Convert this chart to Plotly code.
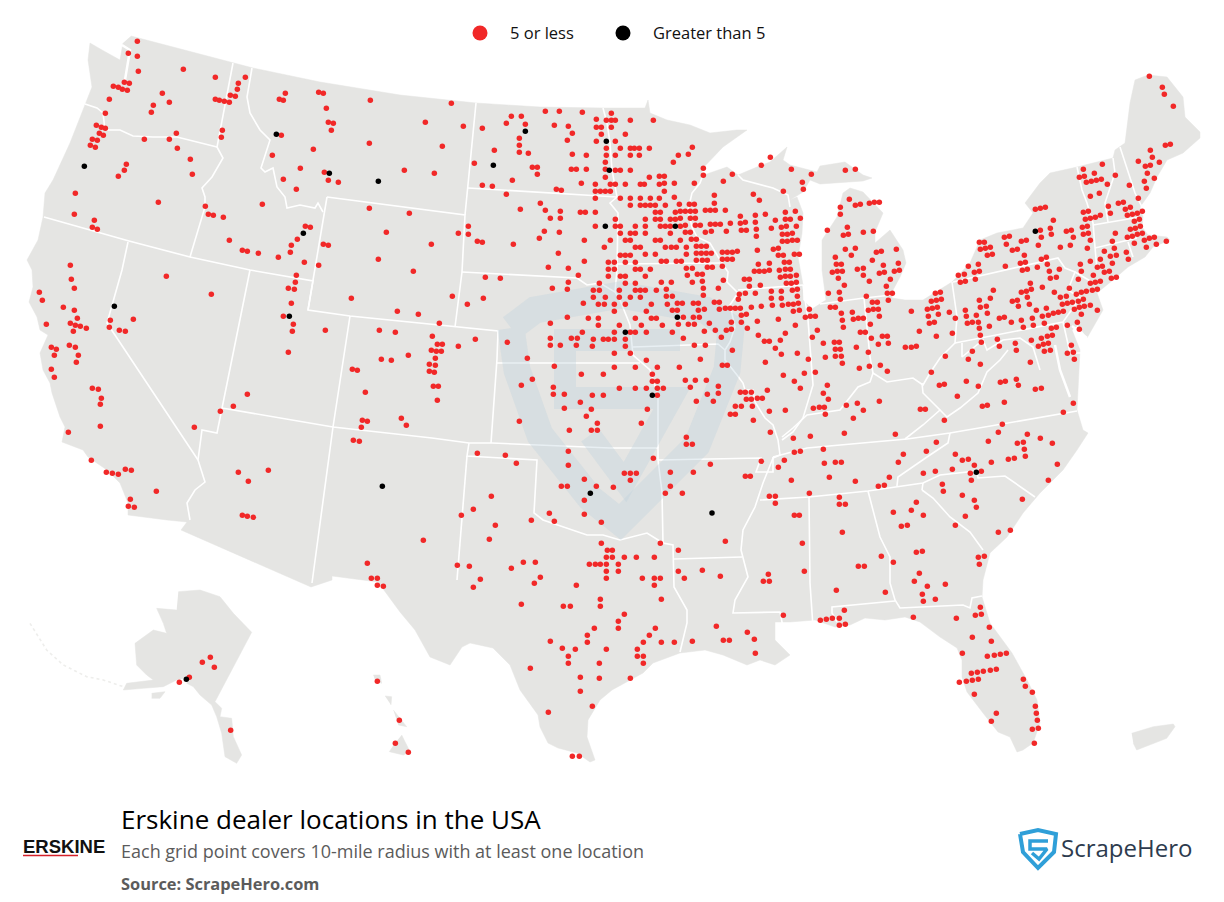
import plotly.graph_objects as go

# Dealer grid points; each list is in units of one enlarged reading window
REGIONS = {"a": (20, 30, 3), "b": (20, 270, 3), "c": (310, 90, 3), "d": (310, 330, 3), "e": (590, 100, 3),
           "f": (590, 295, 3), "g": (820, 60, 3), "h": (730, 350, 3), "i": (430, 530, 3), "j": (20, 580, 3), "l": (940, 580, 3)}

black_a = [(193,409),(769,313),(850,610)]
black_b = [(283,109),(808,139)]
black_c = [(646,124),(889,154),(550,226),(58,250),(205,274),(886,409),(898,241)]
black_d = [(217,469),(841,490)]
black_e = [(49,124),(61,211),(46,379),(256,379)]
black_f = [(106,112),(262,67),(187,301),(1,595)]
black_g = [(646,514)]
black_h = [(739,367)]
black_j = [(499,298)]
black_extra = [(712,513)]

red_a = [(352,34),(325,70),(352,79),(355,124),(490,118),(586,142),(676,142),(655,160),(652,178),(631,196),(646,199),(796,190),(778,208),(790,211),(896,187),(586,208),(598,211),(613,214),(628,217),(313,157),(328,160),(280,169),(295,172),(307,178),(322,181),(427,190),(268,208),(448,217),(400,226),(394,247),(256,250),(229,286),(244,292),(256,295),(238,310),(250,316),(217,328),(232,331),(211,346),(226,352),(373,328),(448,328),(469,310),(472,355),(511,388),(517,433),(607,301),(604,322),(784,316),(757,376),(880,358),(841,415),(790,448),(829,478),(319,403),(313,421),(295,439),(166,490),(163,553),(415,517),(556,529),(565,553),(580,556),(610,562),(727,523),(223,571),(217,592),(232,598),(856,589),(871,592),(832,628),(814,646),(811,667),(628,631),(667,661),(682,664),(715,670),(775,682),(853,697),(896,706),(829,736),(151,706),(154,748),(439,739)]
red_b = [(154,31),(163,55),(58,67),(67,91),(130,112),(163,121),(172,145),(151,160),(166,166),(181,169),(199,175),(160,184),(79,163),(439,19),(574,73),(271,151),(268,172),(298,181),(316,184),(340,148),(94,232),(109,238),(103,256),(148,226),(166,232),(175,256),(169,277),(94,298),(103,322),(217,355),(235,358),(244,385),(241,403),(241,469),(145,487),(214,571),(259,607),(277,610),(295,613),(316,598),(334,601),(409,664),(331,688),(325,709),(343,712),(523,472),(601,424),(640,409),(682,373),(829,16),(826,37),(805,55),(823,58),(814,100),(790,139),(820,163),(817,184),(805,247),(655,607),(745,601),(685,634),(667,736),(682,739),(700,742)]
red_c = [(28,7),(40,10),(181,31),(424,40),(49,55),(55,97),(70,100),(64,121),(346,97),(460,109),(178,160),(397,169),(10,178),(43,247),(283,241),(373,250),(55,271),(85,277),(517,115),(589,100),(604,79),(634,79),(646,103),(706,64),(748,64),(817,67),(733,106),(775,109),(787,130),(772,151),(859,88),(889,91),(859,112),(874,112),(874,133),(859,154),(628,145),(628,166),(628,187),(655,190),(553,181),(493,220),(787,193),(829,196),(889,175),(889,196),(886,217),(667,232),(682,232),(682,253),(784,238),(799,238),(829,238),(886,238),(886,262),(607,271),(517,286),(547,289),(739,298),(754,301),(814,280),(856,283),(856,304),(871,304),(886,304),(901,304),(589,313),(856,325),(691,340),(631,358),(706,361),(751,364),(811,367),(826,367),(856,367),(721,385),(751,385),(178,355),(298,370),(856,409),(475,409),(475,433),(445,430),(229,427),(703,424),(748,427),(688,445),(823,451),(502,454),(517,457),(610,463),(364,463),(40,463),(55,466),(883,472),(2,412),(745,490),(205,508),(823,514),(28,526),(310,544),(715,532),(775,535),(805,556),(526,562),(571,565),(895,517),(895,538),(895,559),(775,577),(868,580),(727,595),(772,598),(850,601),(868,601),(850,622),(427,619),(124,625),(520,625),(472,643),(820,640),(865,643),(883,643),(262,664),(325,673),(772,682),(835,685),(865,685),(388,700),(721,700),(865,706),(46,721),(208,721),(256,727),(367,739),(817,727),(721,745),(784,745),(802,745),(850,748),(880,748),(895,748),(496,748)]
red_d = [(46,1),(208,1),(256,7),(367,19),(382,43),(397,43),(445,49),(496,31),(592,37),(364,61),(379,64),(394,64),(295,76),(214,88),(244,91),(376,85),(358,103),(376,106),(358,124),(373,127),(127,118),(142,121),(370,169),(385,169),(166,187),(382,211),(157,271),(172,274),(154,292),(274,265),(289,286),(130,331),(148,334),(721,25),(721,46),(751,46),(784,25),(802,25),(799,46),(817,7),(850,28),(847,49),(880,28),(895,28),(652,85),(733,109),(667,148),(634,166),(730,172),(730,193),(763,193),(814,133),(880,133),(847,196),(880,196),(811,217),(763,235),(844,238),(829,259),(862,280),(628,274),(778,301),(844,301),(862,301),(775,364),(502,370),(586,376),(619,400),(775,406),(823,448),(754,469),(772,469),(859,469),(823,511),(544,499),(490,538),(454,556),(823,553),(718,550),(664,571),(733,574),(874,577),(556,586),(538,628),(340,631),(874,640),(892,661),(889,682),(172,700),(442,706),(478,709),(604,715),(640,697),(676,697),(838,703),(856,703),(871,703),(889,703),(889,724),(889,745),(691,742),(184,745),(202,745),(511,748)]
red_e = [(64,40),(19,58),(49,61),(64,61),(76,61),(121,61),(190,61),(19,82),(34,82),(64,82),(34,103),(106,103),(19,124),(76,124),(49,145),(91,145),(121,145),(133,145),(148,145),(178,145),(307,142),(49,166),(76,166),(121,166),(148,166),(295,163),(265,166),(46,187),(250,187),(46,208),(76,211),(91,211),(121,211),(46,232),(178,232),(208,229),(223,229),(340,205),(340,226),(16,253),(61,253),(76,253),(106,253),(151,253),(163,253),(208,253),(223,250),(253,250),(313,250),(16,274),(31,274),(46,274),(61,274),(223,274),(16,295),(91,295),(121,295),(151,295),(181,295),(208,295),(253,292),(121,316),(151,316),(166,316),(181,316),(196,316),(226,316),(268,313),(298,313),(313,313),(16,337),(196,337),(211,337),(256,337),(271,334),(286,334),(301,334),(316,334),(76,358),(166,358),(196,358),(211,358),(241,358),(256,358),(271,355),(301,355),(316,355),(16,379),(76,379),(91,379),(136,379),(166,379),(211,379),(226,379),(241,379),(271,379),(286,376),(316,376),(331,376),(91,400),(121,400),(136,400),(166,400),(241,400),(286,397),(301,397),(346,397),(364,394),(106,421),(121,421),(196,421),(211,421),(271,421),(304,418),(319,418),(61,421),(43,442),(136,442),(151,442),(226,442),(244,442),(259,442),(289,442),(319,439),(334,439),(349,439),(91,466),(106,466),(121,466),(166,463),(196,463),(289,463),(319,460),(334,460),(349,460),(364,460),(58,487),(73,487),(106,487),(136,487),(214,484),(229,484),(259,484),(274,484),(319,481),(337,481),(352,481),(58,508),(73,508),(136,508),(151,508),(181,508),(289,505),(307,505),(352,502),(367,502),(58,529),(91,529),(106,529),(166,529),(292,526),(322,523),(337,523),(28,550),(106,550),(136,550),(214,547),(244,547),(307,547),(337,544),(10,571),(28,571),(88,571),(136,571),(151,571),(166,571),(199,571),(229,568),(340,565),(46,592),(88,592),(121,592),(151,592),(229,589),(247,589),(340,586),
 (373,286),(373,310),(346,331),(361,331),(376,331),(406,331),(361,373),(376,373),(391,373),(421,370),(409,394),(400,244),(427,223),(514,196),(541,172),(604,208),(664,223),(637,247),(640,268),(580,274),(490,283),(508,301),(586,337),(616,334),(451,349),(496,346),(526,343),(601,358),(586,358),(631,355),(556,361),(451,370),(466,367),(496,367),(574,382),(589,379),(619,379),(544,385),(499,388),(454,391),(469,391),(577,403),(592,403),(607,400),(499,409),(577,424),(592,424),(607,421),(622,421),(712,391),(502,451),(550,448),(565,445),(565,466),(580,466),(613,463),(628,463),(397,457),(412,457),(427,457),(442,454),(397,478),(412,478),(427,478),(397,499),(505,493),(538,490),(583,487),(598,487),(493,514),(508,514),(523,514),(538,511),(568,511),(586,508),(601,508),(619,526),(571,532),(586,529),(601,529),(463,538),(478,538),(400,541),(589,550),(604,550),(619,547),(478,559),(511,556),(385,565),(607,571),(622,568),(448,583),(466,580),(496,580),(544,574),(574,574),(622,589),(544,595),(574,595),(715,580),(445,598)]
red_f = [(88,7),(121,7),(151,7),(229,4),(247,4),(340,1),(25,28),(43,28),(73,28),(106,28),(184,28),(232,28),(262,25),(277,25),(310,25),(325,25),(373,22),(388,22),(451,19),(544,10),(577,10),(73,49),(169,49),(247,46),(262,46),(325,46),(343,43),(388,43),(406,40),(421,40),(436,40),(451,40),(484,37),(514,34),(547,31),(577,31),(595,28),(610,28),(625,25),(610,49),(628,46),(658,43),(454,61),(469,58),(646,67),(661,64),(676,64),(25,70),(136,70),(184,70),(199,70),(280,67),(310,67),(328,67),(565,73),(502,79),(424,82),(454,82),(25,91),(88,91),(154,91),(217,91),(265,88),(295,88),(313,88),(358,85),(616,91),(73,112),(121,112),(136,112),(169,112),(247,112),(343,109),(376,106),(409,106),(424,103),(472,100),(682,106),(586,115),(505,121),(667,127),(10,133),(40,133),(58,133),(73,133),(106,133),(280,130),(394,127),(523,139),(538,139),(571,136),(700,145),(7,154),(106,154),(313,151),(346,151),(556,160),(427,166),(73,175),(121,175),(574,178),(622,175),(706,187),(169,196),(331,193),(655,193),(526,202),(73,217),(136,217),(202,217),(268,217),(397,211),(412,211),(40,238),(187,238),(580,241),(643,235),(676,232),(187,259),(202,259),(286,256),(316,256),(349,256),(613,259),(301,277),(385,274),(712,271),(88,280),(136,280),(169,280),(202,280),(220,280),(631,280),(532,286),(451,292),(466,292),(484,292),(352,298),(385,295),(700,295),(7,301),(40,301),(202,301),(469,313),(484,313),(502,310),(517,310),(319,319),(370,319),(715,313),(436,334),(454,334),(487,334),(670,340),(688,337),(703,337),(4,343),(172,343),(538,349),(586,346),(421,358),(436,358),(706,358),(490,376),(22,385),(154,385),(4,406),(22,406),(541,412),(289,427),(661,424),(610,430),(289,448),(307,448),(190,490),(613,472),(631,469),(700,463),(514,499),(583,496),(703,505),(361,508),(565,517),(103,535),(121,535),(139,535),(241,532),(310,532),(466,544),(481,544),(121,556),(604,556),(19,574),(70,577),(241,574),(226,595),(277,595),(658,595),(718,547)]
red_g = [(988,49),(1027,82),(1033,103),(1060,139),(1036,256),(1051,253),(991,271),(997,292),(955,304),(1018,307),(976,319),(991,316),(982,340),(1003,355),(973,364),(979,385),(928,376),(847,313),(790,328),(823,340),(778,352),(793,349),(799,367),(814,364),(829,361),(844,358),(862,373),(886,346),(811,409),(838,400),(955,415),(646,448),(661,445),(676,442),(700,481),(790,457),(805,454),(796,478),(811,475),(826,472),(841,466),(865,439),(871,460),(895,430),(910,427),(931,442),(916,448),(922,466),(937,463),(952,460),(967,454),(943,484),(958,478),(691,505),(694,523),(661,511),(739,514),(754,511),(760,532),(787,502),(802,499),(790,523),(805,520),(811,541),(802,565),(721,562),(751,556),(664,532),(655,556),(886,520),(931,508),(946,505),(961,499),(922,532),(937,529),(952,523),(967,520),(973,541),(988,535),(1003,532),(877,544),(943,550),(1009,553),(1039,544),(979,562),(883,565),(853,574),(919,577),(871,589),(889,586),(841,598),(925,598),(811,604),(781,613),(877,610),(847,619),(832,622),(784,634),(868,634),(853,637),(820,646),(874,655),(889,652),(775,658),(826,667),(811,670),(841,664),(817,691),(832,688),(748,685),(799,694),(784,697),(769,703),(739,709),(721,712),(790,718),(775,724),(757,727),(742,730),(727,733),(811,736),(793,739),(778,742),(763,748),(832,751),(730,754),(715,757),(700,760),(685,766),(667,769),(679,745),(649,751),(637,775),(604,781),(574,787),(553,772),(538,775),(784,763),(772,787),(778,808),(742,796),(709,802),(694,805),(673,790),(640,796),(610,802),(697,826),(682,829),(664,835),(685,850),(670,853),(655,859),(691,871),(673,874),(634,841),(586,850),(538,859),(532,838),(589,871),(754,856),(760,877),(742,880),(763,898),
 (553,532),(568,529),(604,544),(619,541),(559,553),(478,547),(493,547),(481,568),(496,565),(511,562),(577,571),(592,568),(517,583),(502,586),(613,586),(601,610),(616,607),(664,598),(679,592),(682,613),(445,619),(475,613),(556,619),(652,622),(607,631),(622,628),(688,634),(718,628),(415,646),(433,643),(463,637),(478,634),(421,667),(436,664),(466,658),(691,655),(709,652),(631,670),(634,688),(667,682),(619,694),(604,697),(520,691),(703,697),(622,712),(511,715),(478,721),(592,721),(577,724),(628,733),(595,739),(481,742),(499,739),(436,751),(502,760),(439,769),(469,766),(457,787),(442,790),(475,787),(478,805),(508,799),(481,826),(484,847),(457,874),
 (76,331),(106,328),(88,418),(61,442),(106,436),(121,433),(148,430),(163,427),(178,427),(61,463),(82,502),(22,511),(70,526),(85,523),(130,517),(160,514),(76,568),(106,565),(94,586),(46,592),(169,577),(184,574),(229,568),(157,601),(49,613),(64,613),(190,616),(235,610),(112,628),(130,625),(37,637),(52,634),(67,634),(130,646),(178,640),(193,637),(223,634),(238,631),(55,655),(148,664),(211,658),(73,676),(199,679),(28,700),(58,697),(202,700),(217,700),(139,709),(61,718),(205,721),
 (346,700),(361,697),(334,724),(349,721),(364,718),(157,727),(172,727),(31,742),(46,742),(322,748),(337,745),(352,742),(145,751),(160,748),(175,748),(274,754),(388,757),(64,760),(97,757),(355,763),(325,769),(178,769),(406,775),(100,778),(115,775),(130,775),(67,781),(328,790),(343,787),(151,793),(70,802),(298,814),(121,817),(136,817),(397,820),(154,835),(187,829),(202,829),(349,829),(10,850),(43,847),(58,847),(175,853),(205,850),(46,868),(61,868),(109,862),(256,862),(274,862),(289,859),(145,877),(46,889),(64,889),(16,892),(376,889)]
red_h = [(154,13),(202,10),(235,28),(106,37),(286,22),(316,19),(334,19),(337,40),(415,7),(388,55),(418,49),(451,46),(472,64),(256,67),(223,70),(160,76),(193,94),(292,106),(211,115),(112,121),(31,127),(46,127),(64,127),(280,130),(49,148),(64,148),(82,145),(97,145),(298,148),(16,169),(34,169),(67,169),(118,184),(166,181),(250,175),(268,172),(283,172),(286,193),(349,166),(382,160),(448,154),(400,181),(370,205),(1,193),(16,193),(70,211),(571,178),(586,178),(643,211),(646,19),(715,28),(751,43),(604,67),(628,106),(643,103),(709,94),(745,109),(682,139),(811,97),(826,94),(859,88),(865,106),(916,118),(934,115),(823,157),(757,169),(772,166),(901,37),(859,1),(1030,160),(1000,187),(817,223),(805,247),(775,274),(892,253),(862,280),(880,277),(883,298),(931,265),(967,280),(886,319),(835,328),(853,325),(982,343),(955,391),(121,247),(190,265),(241,259),(343,250),(496,253),(280,298),(193,307),(211,304),(94,334),(163,331),(145,352),(283,340),(316,337),(334,337),(505,337),(520,313),(589,304),(619,277),(676,313),(697,331),(715,328),(733,346),(46,379),(61,379),(184,391),(304,382),(376,394),(478,382),(445,409),(463,406),(580,370),(616,364),(667,358),(721,370),(754,364),(784,337),(724,391),(637,403),(640,424),(238,430),(118,439),(136,439),(328,442),(136,460),(328,463),(346,463),(697,436),(733,451),(739,472),(877,448),(559,457),(544,481),(490,487),(580,496),(706,499),(193,496),(208,496),(514,529),(532,526),(676,526),(337,547),(805,547),(841,541),(217,580),(559,607),(577,604),(745,622),(763,619),(748,643),(454,619),(490,637),(385,649),(403,649),(568,670),(115,673),(223,664),(553,694),(100,694),(118,694),(592,709),(646,703),(319,721),(466,727),(577,733),(616,748),(580,754),(751,772),(343,781),(160,796),(736,796),(754,793),(271,811),(289,808),(307,805),(328,805),(550,802),(679,805),(328,826),(346,823),(778,832)]
red_i = [(178,28),(514,40),(691,40),(886,34),(532,61),(547,61),(745,61),(529,82),(547,82),(583,82),(619,82),(673,82),(82,106),(118,109),(280,97),(316,97),(478,103),(496,103),(511,103),(529,103),(565,103),(244,115),(529,124),(565,124),(745,124),(817,121),(151,151),(331,142),(529,145),(637,145),(673,145),(691,145),(763,145),(871,139),(130,172),(313,160),(439,166),(673,166),(511,208),(694,208),(274,223),(400,229),(421,229),(511,229),(583,253),(565,274),(565,295),(493,295),(676,295),(859,289),(472,316),(658,316),(952,307),(361,334),(472,337),(640,337),(694,337),(733,337),(787,334),(880,331),(898,331),(973,328),(397,355),(436,358),(529,358),(622,358),(415,379),(622,379),(640,379),(976,370),(415,400),(508,400),(640,400),(301,415),(451,442),(508,445),(601,445),(451,484),(487,529),(355,547),(427,679),(448,679)]
red_j = [(571,232),(574,235),(547,247),(583,262),(508,292),(516,295),(478,307),(632,451),(1072,304),(1138,421),(1126,490),(1165,517),(1072,16),(1090,19)]
red_l = [(16,13),(121,82),(106,106),(124,103),(49,115),(148,142),(97,172),(154,184),(67,220),(142,229),(163,226),(181,223),(199,220),(94,280),(112,277),(130,274),(151,271),(169,268),(250,298),(256,319),(58,307),(79,304),(97,301),(115,298),(277,337),(103,343),(286,379),(289,400),(169,400),(292,421),(154,424),(295,445),(277,448),(283,490)]

# Base map outlines
mainland = [(131,36),(233,63),(253,68),(320,82),(400,95),(476,103),(540,107),(603,108),(645,108),(648,100),(650,113),(667,120),(690,125),(710,133),(737,130),(747,130),(723,147),(703,168),(701,176),(727,167),(738,175),(757,167),(770,162),(787,147),(783,160),(790,165),(817,172),(820,166),(845,162),(863,175),(872,178),(863,181),(820,184),(810,180),(803,192),(790,200),(797,197),(803,213),(802,233),(798,257),(803,285),(803,300),(812,309),(826,300),(822,270),(822,240),(837,217),(843,193),(850,188),(863,192),(883,213),(875,232),(875,243),(890,230),(903,250),(906,263),(900,277),(893,290),(892,298),(905,300),(923,300),(952,282),(970,263),(980,240),(997,233),(1023,228),(1033,213),(1025,203),(1040,183),(1050,173),(1077,167),(1113,158),(1115,150),(1125,143),(1130,103),(1135,80),(1148,75),(1167,77),(1183,97),(1185,117),(1200,132),(1200,138),(1183,153),(1167,160),(1157,177),(1150,193),(1140,207),(1143,217),(1142,227),(1148,235),(1167,237),(1170,240),(1153,247),(1145,257),(1128,267),(1113,280),(1097,293),(1103,310),(1087,338),(1078,325),(1072,330),(1080,350),(1078,385),(1077,410),(1083,430),(1088,433),(1077,450),(1063,470),(1040,493),(1023,513),(1007,537),(990,553),(983,580),(982,597),(990,623),(1012,653),(1027,680),(1037,700),(1040,723),(1033,743),(1023,750),(1017,752),(1010,737),(998,732),(983,713),(967,692),(962,677),(962,660),(957,648),(940,637),(920,622),(905,617),(885,620),(865,618),(850,625),(835,627),(815,620),(790,622),(775,622),(775,640),(790,655),(775,665),(760,660),(747,665),(723,655),(705,650),(680,653),(653,663),(643,673),(630,680),(612,690),(600,700),(588,720),(587,737),(595,760),(590,762),(577,753),(558,748),(548,743),(540,727),(538,715),(520,690),(510,665),(493,648),(470,643),(462,647),(450,665),(430,657),(415,630),(400,612),(378,582),(332,576),(332,580),(311,587),(181,530),(187,522),(167,520),(128,515),(128,503),(120,483),(107,470),(88,457),(83,450),(62,442),(65,427),(60,417),(52,393),(50,383),(43,370),(40,353),(48,335),(40,330),(37,317),(29,302),(33,287),(32,270),(27,260),(38,240),(43,217),(45,193),(53,180),(70,143),(88,98),(92,87),(88,60),(90,43),(102,50),(120,60),(123,43)]
alaska = [(475,35),(540,30),(600,50),(640,100),(695,157),(585,365),(605,385),(600,410),(635,415),(640,470),(665,525),(650,550),(615,530),(605,460),(590,410),(575,375),(540,345),(520,320),(500,310),(510,290),(470,300),(430,320),(370,325),(310,330),(320,310),(400,300),(380,285),(350,255),(345,190),(400,150),(440,160),(430,130),(410,85),(470,90)]
kodiak = [(395,340),(435,335),(420,355),(395,355)]
kauai = [(1060,285),(1080,285),(1085,310),(1065,300)]
oahu = [(1095,348),(1115,350),(1113,375)]
maui = [(1120,390),(1160,440),(1135,435)]
big_island = [(1145,465),(1170,515),(1150,525),(1108,515),(1125,490)]
puerto_rico = [(575,460),(640,440),(700,432),(705,440),(680,475),(590,510),(580,490)]
aleutians = [(30,130),(80,210),(130,255),(200,290),(250,300),(310,320)]
water_lines = [[(122,45),(130,50),(125,80),(123,82)],[(1055,345),(1060,370),(1070,397)],[(1087,338),(1072,326)]]

borders = [
 [(85,104),(97,108),(103,113),(105,130),(120,130),(133,136),(153,137),(177,137),(217,147)],
 [(233,63),(217,147),(223,158),(212,177),(202,188),(205,197),(205,207),(190,257)],
 [(44,217),(129,241),(190,257),(250,270),(313,281),(308,310),(350,316),(455,327),(498,331),(497,359),(491,443)],
 [(250,270),(222,408),(220,420),(217,433),(202,430),(198,460),(205,482),(195,490),(187,503),(190,520)],
 [(128,242),(122,270),(107,323),(198,460)],
 [(222,408),(333,427),(432,438),(469,443),(492,443),(610,448),(658,448),(658,460),(662,492),(663,530),(663,543),(673,545),(674,587),(687,610),(687,623),(680,652)],
 [(658,460),(761,458),(756,472),(773,472),(773,457)],
 [(350,316),(333,427),(312,583)],
 [(327,197),(308,310)],[(327,197),(465,215),(462,272),(455,327)],
 [(252,68),(247,97),(250,113),(260,130),(270,140),(265,157),(261,168),(265,172),(273,168),(277,187),(285,197),(287,208),(300,205),(315,208),(318,203),(323,212)],
 [(476,103),(468,188),(465,215)],[(462,272),(577,278),(587,285),(600,283),(615,292),(620,300),(630,325),(632,345),(633,355),(650,370),(658,395),(658,448)],
 [(468,188),(617,197)],
 [(603,108),(607,123),(610,143),(612,170),(617,197),(610,203),(618,213),(617,270),(615,292)],
 [(617,264),(720,263)],
 [(703,175),(700,183),(692,193),(688,210),(692,227),(697,237),(710,243),(720,260),(728,272),(727,282),(738,293),(730,305),(735,327),(730,342),(725,350),(725,360),(737,375),(743,383),(745,390),(753,390),(755,402),(765,418),(773,425),(778,440),(780,455),(773,458),(763,483),(755,507),(743,530),(741,550),(748,577),(735,600),(733,613),(780,612),(783,627)],
 [(633,347),(718,344),(725,350)],[(497,363),(640,363)],
 [(469,443),(467,456),(537,460),(534,513),(543,520),(567,528),(587,535),(603,535),(620,540),(647,533),(663,543)],
 [(467,456),(457,580)],[(674,559),(742,557)],
 [(773,457),(807,448),(907,439),(950,433),(1077,411)],
 [(950,433),(948,443),(927,457),(898,477),(897,486)],
 [(760,500),(809,497),(868,491),(923,483),(940,475),(977,471),(978,478),(1005,476),(1035,497)],
 [(922,490),(933,498),(950,517),(970,532),(983,550)],[(923,483),(922,490)],
 [(809,497),(810,583),(813,627)],
 [(868,491),(880,537),(890,557),(890,583),(895,600),(900,608),(963,605),(970,608),(972,598),(982,596)],
 [(895,601),(832,607),(832,613),(837,622)],
 [(905,439),(923,425),(940,410),(923,393),(922,383)],
 [(782,437),(793,428),(807,415),(830,412),(840,410),(858,387),(870,382),(873,373),(887,382),(913,378),(923,385),(930,373),(940,358),(955,343),(957,317),(952,282)],
 [(955,343),(1063,322),(1080,298),(1068,290),(1075,272),(1065,268),(1058,258),(953,282)],
 [(962,343),(962,357),(983,340),(987,350),(1003,340),(1020,338),(1033,347),(1040,370)],
 [(940,410),(947,417),(960,408),(978,393),(987,372),(1000,360),(1008,350)],
 [(1063,322),(1070,353),(1087,353)],
 [(808,320),(813,385),(803,418),(793,432),(782,440)],[(738,290),(803,285)],[(808,320),(803,285)],
 [(864,298),(870,357),(873,373)],[(820,304),(864,298),(892,295)],
 [(1075,272),(1092,282)],
 [(1077,167),(1082,190),(1087,203),(1093,223),(1095,247),(1097,270)],
 [(1095,248),(1137,238)],[(1128,242),(1133,257)],[(1093,225),(1140,217)],
 [(1113,158),(1115,173),(1105,203),(1108,222)],[(1120,147),(1135,193),(1142,207)],
 [(738,175),(743,180),(773,188),(788,195),(790,207)],
]
watermark_rim = [(511,328),(535,310),(620,295),(705,310),(731,328),(727,370),(697,445),(650,498),(620,522),(590,498),(540,435),(517,370),(511,328)]
watermark_s = [(680,340),(565,340),(565,398),(672,398),(625,482),(590,435)]
logo_rim = [(1020,834),(1038,830),(1056,834),(1054,852),(1038,868),(1023,852),(1020,834)]
logo_s = [(1048,841),(1030,841),(1030,849),(1047,849),(1039,859),(1032,853)]

legend_labels = ["5 or less", "Greater than 5"]
TITLE = "Erskine dealer locations in the USA"
SUBTITLE = "Each grid point covers 10-mile radius with at least one location"
SOURCE = "Source: ScrapeHero.com"

RED, BLACK, LAND = "#f12828", "#000000", "#e5e5e3"


def place(key, pts):
    x0, y0, s = REGIONS[key]
    return [(x0 + a / s, y0 + b / s) for a, b in pts]


def unique(pts, taken, gap=3.2):
    out = []
    for p in pts:
        if all((p[0] - q[0]) ** 2 + (p[1] - q[1]) ** 2 > gap ** 2 for q in taken):
            taken.append(p)
            out.append(p)
    return out


def xs(pts):
    return [p[0] for p in pts]


def ys(pts):
    return [p[1] for p in pts]


fig = go.Figure()


def land(pts):
    fig.add_trace(go.Scatter(x=xs(pts), y=ys(pts), mode="lines", fill="toself", fillcolor=LAND,
                             line=dict(color=LAND, width=0.5), hoverinfo="skip", showlegend=False))


def stroke(pts, color, width, dash="solid"):
    fig.add_trace(go.Scatter(x=xs(pts), y=ys(pts), mode="lines", line=dict(color=color, width=width, dash=dash),
                             hoverinfo="skip", showlegend=False))


land(mainland)
for key, poly in [("j", alaska), ("j", kodiak), ("j", kauai), ("j", oahu), ("j", maui), ("j", big_island), ("l", puerto_rico)]:
    land(place(key, poly))
stroke(place("j", aleutians), "#eeeeec", 1.6, "dot")
for w in water_lines:
    stroke(w, "#ffffff", 2.5)
for b in borders:
    stroke(b, "#ffffff", 1.6)
stroke(watermark_rim, "rgba(190,208,222,0.35)", 27)
stroke(watermark_s, "rgba(190,208,222,0.35)", 22)

taken = []
black_pts = []
for key, pts in [("a", black_a), ("b", black_b), ("c", black_c), ("d", black_d), ("e", black_e), ("f", black_f),
                 ("g", black_g), ("h", black_h), ("j", black_j)]:
    black_pts += unique(place(key, pts), taken)
black_pts += unique(black_extra, taken)
red_pts = []
for key, pts in [("a", red_a), ("b", red_b), ("c", red_c), ("d", red_d), ("e", red_e), ("f", red_f), ("g", red_g),
                 ("h", red_h), ("i", red_i), ("j", red_j), ("l", red_l)]:
    red_pts += unique(place(key, pts), taken)

fig.add_trace(go.Scatter(x=xs(red_pts), y=ys(red_pts), mode="markers", name=legend_labels[0],
                         marker=dict(color=RED, size=5.5), showlegend=False))
fig.add_trace(go.Scatter(x=xs(black_pts), y=ys(black_pts), mode="markers", name=legend_labels[1],
                         marker=dict(color=BLACK, size=5.5), showlegend=False))
fig.add_trace(go.Scatter(x=[480, 623], y=[33, 33], mode="markers", marker=dict(color=[RED, BLACK], size=15),
                         hoverinfo="skip", showlegend=False))
stroke(logo_rim, "#2f9fd8", 4)
stroke(logo_s, "#2f9fd8", 3.5)
stroke([(23, 855.5), (78, 855.5)], "#d5202a", 1.5)


def label(x, y, text, size, color, family="Open Sans", **kw):
    fig.add_annotation(x=x, y=y, text=text, showarrow=False, xanchor="left", yanchor="middle",
                       font=dict(size=size, color=color, family=family), xref="x", yref="y", **kw)


label(508, 32, legend_labels[0], 16.5, "#111111")
label(651, 32, legend_labels[1], 16.5, "#111111")
label(119, 819, TITLE, 26, "#000000")
label(119, 851, SUBTITLE, 18, "#5b5b5b")
label(119, 883, "<b>" + SOURCE + "</b>", 16.4, "#5b5b5b")
label(21, 846, "<b>ERSKINE</b>", 18.5, "#111111", family="Liberation Sans")
label(1059, 847, "ScrapeHero", 24, "#2d3b4e")

axis = dict(visible=False, fixedrange=True)
fig.update_layout(width=1224, height=902, margin=dict(l=0, r=0, t=0, b=0), paper_bgcolor="white", plot_bgcolor="white",
                  xaxis=dict(range=[0, 1224], **axis), yaxis=dict(range=[902, 0], **axis), showlegend=False)
fig.write_html("out.html", post_script="document.body.style.margin='0';document.body.style.overflow='hidden';",
               config={"displayModeBar": False})
